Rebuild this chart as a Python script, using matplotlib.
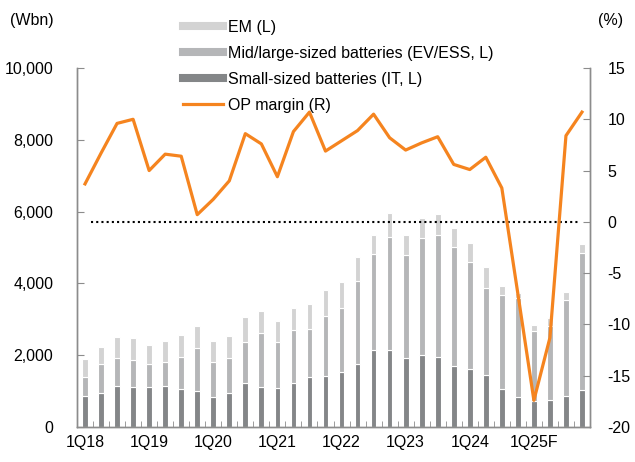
import matplotlib
matplotlib.use("Agg")
import matplotlib.pyplot as plt
from matplotlib.lines import Line2D
import numpy as np

plt.rcParams['font.family'] = ['Liberation Sans', 'DejaVu Sans']
plt.rcParams['axes.unicode_minus'] = False

quarters = ["1Q18","2Q18","3Q18","4Q18","1Q19","2Q19","3Q19","4Q19",
            "1Q20","2Q20","3Q20","4Q20","1Q21","2Q21","3Q21","4Q21",
            "1Q22","2Q22","3Q22","4Q22","1Q23","2Q23","3Q23","4Q23",
            "1Q24","2Q24","3Q24","4Q24","1Q25F","2Q25F","3Q25F","4Q25F"]
tick_labels = ["1Q18","1Q19","1Q20","1Q21","1Q22","1Q23","1Q24","1Q25F"]

small = [873, 935, 1133, 1124, 1124, 1142, 1059, 1012, 827, 938, 1235, 1105,
         1077, 1226, 1384, 1412, 1532, 1755, 2136, 2136, 1922, 2006, 1950, 1699,
         1616, 1449, 1059, 827, 715, 752, 873, 1031]
midlarge_cum = [1402, 1746, 1913, 1867, 1755, 1820, 1960, 2192, 1801, 1932, 2368, 2628,
                2377, 2702, 2739, 3101, 3306, 4068, 4820, 5302, 4801, 5256, 5349, 5006,
                4588, 3864, 3669, 3585, 2665, 2814, 3538, 4839]
total = [1894, 2237, 2516, 2470, 2294, 2396, 2554, 2805, 2387, 2545, 3074, 3241,
         2953, 3324, 3427, 3808, 4040, 4736, 5358, 5953, 5358, 5823, 5934, 5544,
         5135, 4449, 3928, 3743, 2851, 3028, 3771, 5107]
op_margin = [3.7, 6.7, 9.6, 10.0, 5.0, 6.6, 6.4, 0.7, 2.2, 4.0, 8.6, 7.6,
             4.4, 8.8, 10.7, 6.9, 7.9, 8.9, 10.5, 8.2, 7.0, 7.7, 8.3, 5.6,
             5.1, 6.3, 3.3, -7.0, -17.4, -11.3, 8.4, 10.7]

midlarge = [m - s for m, s in zip(midlarge_cum, small)]
em = [t - m for t, m in zip(total, midlarge_cum)]

c_em = "#D3D3D3"
c_mid = "#B5B6B8"
c_small = "#848688"
c_line = "#F5841F"
c_spine = "#8C8C8C"
fs = 11.5

fig = plt.figure(figsize=(6.35, 4.62), dpi=100)
ax = fig.add_axes([77/635, 1-427/462, (590-77)/635, (427-68)/462])
x = np.arange(len(quarters))
w = 0.36
ax.bar(x, small, w, color=c_small, edgecolor="white", linewidth=0.8, zorder=2)
ax.bar(x, midlarge, w, bottom=small, color=c_mid, edgecolor="white", linewidth=0.8, zorder=2)
ax.bar(x, em, w, bottom=midlarge_cum, color=c_em, edgecolor="white", linewidth=0.8, zorder=2)

ax.set_xlim(-0.5, len(quarters) - 0.5)
ax.set_ylim(0, 10000)
ax.set_yticks(np.arange(0, 10001, 2000))
ax.set_yticklabels([f"{v:,}" for v in range(0, 10001, 2000)])
ax.set_xticks(x[::4])
ax.set_xticklabels(tick_labels)
ax.set_xticks(np.arange(0.5, len(quarters) - 1, 1), minor=True)
ax.tick_params(axis='x', which='major', length=0, pad=6, labelsize=fs)
ax.tick_params(axis='x', which='minor', direction='in', length=4, color=c_spine)
ax.tick_params(axis='y', direction='in', length=5, color=c_spine, labelsize=fs, pad=17)

ax2 = ax.twinx()
ax2.set_ylim(-20, 15)
ax2.set_yticks(np.arange(-20, 16, 5))
ax2.tick_params(axis='y', direction='in', length=5, color=c_spine, labelsize=fs, pad=12.5)
ax2.hlines(0, 0.37, 30.85, colors="black", linestyles=(0, (1, 1.5)), linewidth=1.5, zorder=3)
ax2.plot(x, op_margin, color=c_line, linewidth=2.3, zorder=4)

for a in (ax, ax2):
    a.spines['top'].set_visible(False)
    for s in ('left', 'right', 'bottom'):
        a.spines[s].set_color(c_spine)
        a.spines[s].set_linewidth(1.0)

fig.text(10/635, 1-20/462, "(Wbn)", fontsize=fs, va='center', ha='left')
fig.text(598/635, 1-20/462, "(%)", fontsize=fs, va='center', ha='left')

handles = [Line2D([0], [0], color=c_em, lw=5.8),
           Line2D([0], [0], color=c_mid, lw=5.8),
           Line2D([0], [0], color=c_small, lw=5.8),
           Line2D([0], [0], color=c_line, lw=2.3)]
labels = ["EM (L)", "Mid/large-sized batteries (EV/ESS, L)",
          "Small-sized batteries (IT, L)", "OP margin (R)"]
fig.legend(handles, labels, loc='upper left', bbox_to_anchor=(183/635, 1-20/462),
           frameon=False, fontsize=fs, handlelength=2.5, handletextpad=0.3,
           labelspacing=0.68, borderpad=0, borderaxespad=0)

fig.savefig("out.png", dpi=100)
